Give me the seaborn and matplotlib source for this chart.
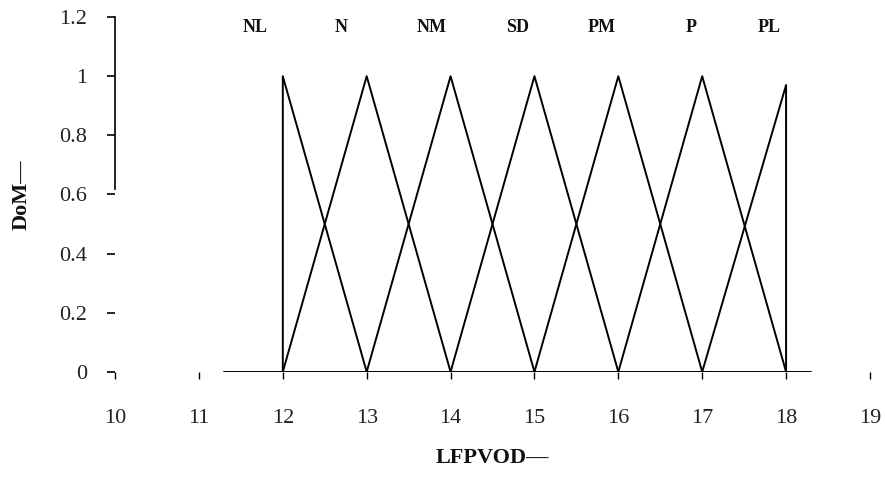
import matplotlib
matplotlib.use("Agg")
import matplotlib.pyplot as plt
import seaborn as sns
import pandas as pd

sns.set_theme(style="white")
plt.rcParams['font.family'] = ['Liberation Serif', 'DejaVu Serif']

# Membership function data (LFPVOD)
labels = ["NL", "N", "NM", "SD", "PM", "P", "PL"]
x_points = [
    [12, 12, 13],
    [12, 13, 14],
    [13, 14, 15],
    [14, 15, 16],
    [15, 16, 17],
    [16, 17, 18],
    [17, 18, 18],
]
dom_points = [
    [0, 1, 0],
    [0, 1, 0],
    [0, 1, 0],
    [0, 1, 0],
    [0, 1, 0],
    [0, 1, 0],
    [0, 0.97, 0],
]
label_x = [11.67, 12.70, 13.77, 14.80, 15.80, 16.87, 17.80]
label_y = 1.165
baseline_x = [11.3, 18.3]
baseline_y = [0, 0]
x_ticks = [10, 11, 12, 13, 14, 15, 16, 17, 18, 19]
y_ticks = [0, 0.2, 0.4, 0.6, 0.8, 1.0, 1.2]
y_ticklabels = ["0", "0.2", "0.4", "0.6", "0.8", "1", "1.2"]

rows = []
for lab, xs, ys in zip(labels, x_points, dom_points):
    for i, (xv, yv) in enumerate(zip(xs, ys)):
        rows.append({"set": lab, "order": i, "x": xv, "dom": yv})
df = pd.DataFrame(rows)

fig = plt.figure(figsize=(8.85, 4.88), dpi=100)
ax = fig.add_axes([0.13, 0.238, 0.853, 0.727])

for lab in labels:
    sub = df[df["set"] == lab]
    sns.lineplot(data=sub, x="x", y="dom", sort=False, estimator=None,
                 errorbar=None, color="black", linewidth=1.4, ax=ax,
                 legend=False)

sns.lineplot(x=baseline_x, y=baseline_y, estimator=None, errorbar=None,
             color="black", linewidth=1.4, ax=ax, legend=False)

for lab, lx in zip(labels, label_x):
    ax.text(lx, label_y, lab, ha="center", va="center", fontsize=13,
            fontweight="bold", color="#111111")

ax.set_xlim(10, 19)
ax.set_ylim(0, 1.2)
ax.set_xticks(x_ticks)
ax.set_xticklabels([str(t) for t in x_ticks])
ax.set_yticks(y_ticks)
ax.set_yticklabels(y_ticklabels)

for side in ["top", "right", "bottom"]:
    ax.spines[side].set_visible(False)
ax.spines["left"].set_color("black")
ax.spines["left"].set_linewidth(1.2)
ax.spines["left"].set_bounds(0.62, 1.2)

ax.tick_params(axis="y", which="both", left=True, length=6, width=1.2,
               color="black", pad=14, labelsize=16, labelcolor="#222222")
ax.tick_params(axis="x", which="both", bottom=True, length=5, width=1.0,
               color="black", pad=22, labelsize=16, labelcolor="#222222")

ax.set_xlabel("LFPVOD\u2014", fontsize=16, fontweight="bold", labelpad=14,
              color="#111111")
ax.set_ylabel("DoM\u2014", fontsize=16, fontweight="bold", labelpad=20,
              color="#111111")
ax.grid(False)

fig.savefig("out.png", dpi=100, facecolor="white")
